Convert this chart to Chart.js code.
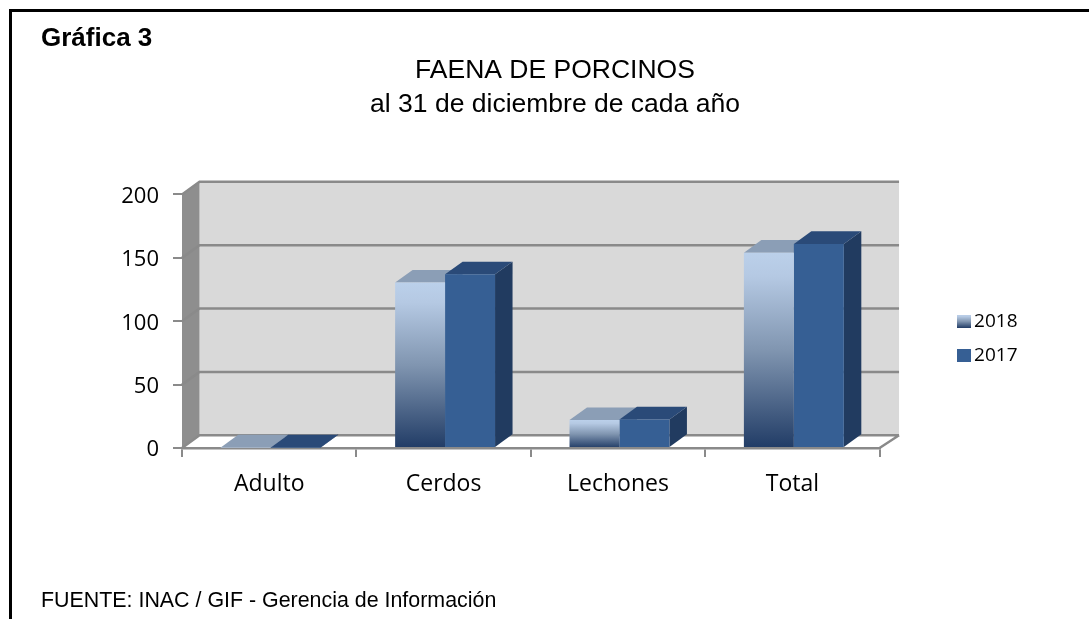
<!DOCTYPE html>
<html lang="es">
<head>
<meta charset="utf-8">
<title>Faena de porcinos</title>
<script src="https://cdn.jsdelivr.net/npm/chart.js@4"></script>
<style>
html,body{margin:0;padding:0;background:#fff;overflow:hidden}
#wrap{position:relative;width:1089px;height:619px;overflow:hidden}
canvas{position:absolute;left:0;top:0}
#frameTop{position:absolute;left:9px;top:9px;width:1080px;height:3px;background:#000}
#frameLeft{position:absolute;left:9px;top:9px;width:3px;height:610px;background:#000}
#badge{position:absolute;left:41px;top:22px;font:bold 26px "Liberation Sans",Arial,sans-serif;color:#000}
#source{position:absolute;left:41px;top:588px;font:21.4px "Liberation Sans",Arial,sans-serif;color:#000}
</style>
</head>
<body>
<div id="wrap">
<canvas id="c" width="1089" height="619"></canvas>
<div id="frameTop"></div>
<div id="frameLeft"></div>
<div id="badge">Gráfica 3</div>
<div id="source">FUENTE: INAC / GIF - Gerencia de Información</div>
</div>
<script>
const categories = ['Adulto', 'Cerdos', 'Lechones', 'Total'];
const values2018 = [0.4, 130.5, 22, 154];
const values2017 = [0.4, 137, 22.5, 161];
const titleLines = ['FAENA DE PORCINOS', 'al 31 de diciembre de cada año'];

const DEPTH_X = 17.5, DEPTH_Y = 12.7, BAR_SHIFT = 1.5, WALL_RIGHT_DX = 19.5, Y_LABEL_SHIFT = 2;
const GRID = '#8a8a8a';
const LABEL_FONT = '"Open Sans", "Noto Sans", sans-serif';

function poly(ctx, pts, fill) {
  ctx.fillStyle = fill;
  ctx.beginPath();
  pts.forEach((p, i) => i ? ctx.lineTo(p[0], p[1]) : ctx.moveTo(p[0], p[1]));
  ctx.closePath();
  ctx.fill();
}
function ramp(ctx, y0, y1) {
  const g = ctx.createLinearGradient(0, y0, 0, y1);
  g.addColorStop(0, '#bbd0ea');
  g.addColorStop(0.12, '#b5c9e3');
  g.addColorStop(0.5, '#8095b0');
  g.addColorStop(1, '#213c66');
  return g;
}
function swatch(fill) {
  const cv = document.createElement('canvas');
  cv.width = 14; cv.height = 13;
  const cx = cv.getContext('2d');
  cx.fillStyle = fill === null ? ramp(cx, 0, 13) : fill;
  cx.fillRect(0, 0, 14, 13);
  return cv;
}
const faces = [
  {top: '#8b9eb6', side: '#7a8ea8'},
  {top: '#2a4a78', side: '#213b60'}
];

const walls = {
  id: 'walls',
  beforeDraw(chart) {
    const {ctx, scales: {x, y}} = chart;
    const l = x.left, r = x.right, b = y.getPixelForValue(0), t = y.getPixelForValue(200);
    const dx = DEPTH_X, dy = DEPTH_Y, rx = r + WALL_RIGHT_DX;
    ctx.save();
    poly(ctx, [[l + dx, t - dy], [rx, t - dy], [rx, b - dy], [l + dx, b - dy]], '#d9d9d9');
    poly(ctx, [[l, b], [l + dx, b - dy], [rx, b - dy], [r, b]], '#ffffff');
    poly(ctx, [[l, t], [l + dx, t - dy], [l + dx, b - dy], [l, b]], '#8e8e8e');
    ctx.strokeStyle = GRID;
    ctx.lineWidth = 2.5;
    ctx.beginPath();
    y.ticks.forEach(tk => {
      const py = y.getPixelForValue(tk.value);
      ctx.moveTo(l, py);
      ctx.lineTo(l + dx, py - dy);
      ctx.lineTo(rx, py - dy);
    });
    ctx.moveTo(r, b);
    ctx.lineTo(rx, b - dy);
    ctx.stroke();
    ctx.restore();
  },
  beforeDatasetsDraw(chart) {
    const {ctx} = chart;
    ctx.save();
    ctx.translate(BAR_SHIFT, 0);
    chart.data.datasets.forEach((ds, i) => {
      chart.getDatasetMeta(i).data.forEach(bar => {
        const p = bar.getProps(['x', 'y', 'base', 'width'], true);
        const xl = p.x - p.width / 2, xr = p.x + p.width / 2;
        poly(ctx, [[xr, p.y], [xr + DEPTH_X, p.y - DEPTH_Y], [xr + DEPTH_X, p.base - DEPTH_Y], [xr, p.base]], faces[i].side);
        poly(ctx, [[xl, p.y], [xl + DEPTH_X, p.y - DEPTH_Y], [xr + DEPTH_X, p.y - DEPTH_Y], [xr, p.y]], faces[i].top);
      });
    });
    ctx.restore();
    ctx.save();
    ctx.translate(BAR_SHIFT, 0);
  },
  afterDatasetsDraw(chart) {
    chart.ctx.restore();
  }
};

new Chart(document.getElementById('c'), {
  type: 'bar',
  data: {
    labels: categories,
    datasets: [
      {
        label: '2018',
        data: values2018,
        backgroundColor(c) {
          if (c.parsed === undefined) return '#8095b0';
          const y = c.chart.scales.y;
          return ramp(c.chart.ctx, y.getPixelForValue(c.parsed.y), y.getPixelForValue(0));
        }
      },
      {label: '2017', data: values2017, backgroundColor: '#365f94'}
    ]
  },
  options: {
    responsive: false,
    animation: false,
    layout: {padding: {left: 82.5, right: 61.5, top: 58, bottom: 0}},
    datasets: {bar: {categoryPercentage: 0.573, barPercentage: 1}},
    plugins: {
      tooltip: {enabled: false},
      title: {
        display: true,
        text: titleLines,
        color: '#000',
        font: {family: '"Liberation Sans", Arial, sans-serif', size: 26.5, weight: 'normal', lineHeight: 1.283},
        padding: {top: -4.5, bottom: 73}
      },
      legend: {
        position: 'right',
        labels: {
          color: '#000',
          font: {family: LABEL_FONT, size: 19},
          usePointStyle: true,
          boxWidth: 1,
          boxHeight: 1,
          padding: 15,
          generateLabels(chart) {
            return chart.data.datasets.map((ds, i) => ({
              text: ds.label,
              datasetIndex: i,
              lineWidth: 0,
              strokeStyle: 'transparent',
              fontColor: '#000',
              pointStyle: swatch(i === 0 ? null : ds.backgroundColor)
            }));
          }
        }
      }
    },
    scales: {
      x: {
        afterFit(s) { s.height = 171; },
        grid: {drawOnChartArea: false, drawTicks: true, tickLength: 9, color: GRID, lineWidth: 2},
        border: {color: GRID, width: 2.5},
        ticks: {color: '#000', font: {family: LABEL_FONT, size: 23}, padding: 14, maxRotation: 0}
      },
      y: {
        min: 0,
        max: 200,
        afterFit(s) {
          s.width = 99.5;
          if (!s._labelShiftApplied) {
            const drawLabels = s.drawLabels;
            s.drawLabels = function (area) {
              const ctx = this.ctx;
              ctx.save();
              ctx.translate(0, Y_LABEL_SHIFT);
              drawLabels.call(this, area);
              ctx.restore();
            };
            s._labelShiftApplied = true;
          }
        },
        grid: {drawOnChartArea: false, drawTicks: true, tickLength: 9, color: GRID, lineWidth: 2},
        border: {display: false},
        ticks: {stepSize: 50, color: '#000', font: {family: LABEL_FONT, size: 22}, padding: 14}
      },
      spacer: {
        position: 'right',
        display: true,
        afterFit(s) { s.width = 69; },
        grid: {display: false},
        border: {display: false},
        ticks: {display: false}
      }
    }
  },
  plugins: [walls]
});
</script>
</body>
</html>
